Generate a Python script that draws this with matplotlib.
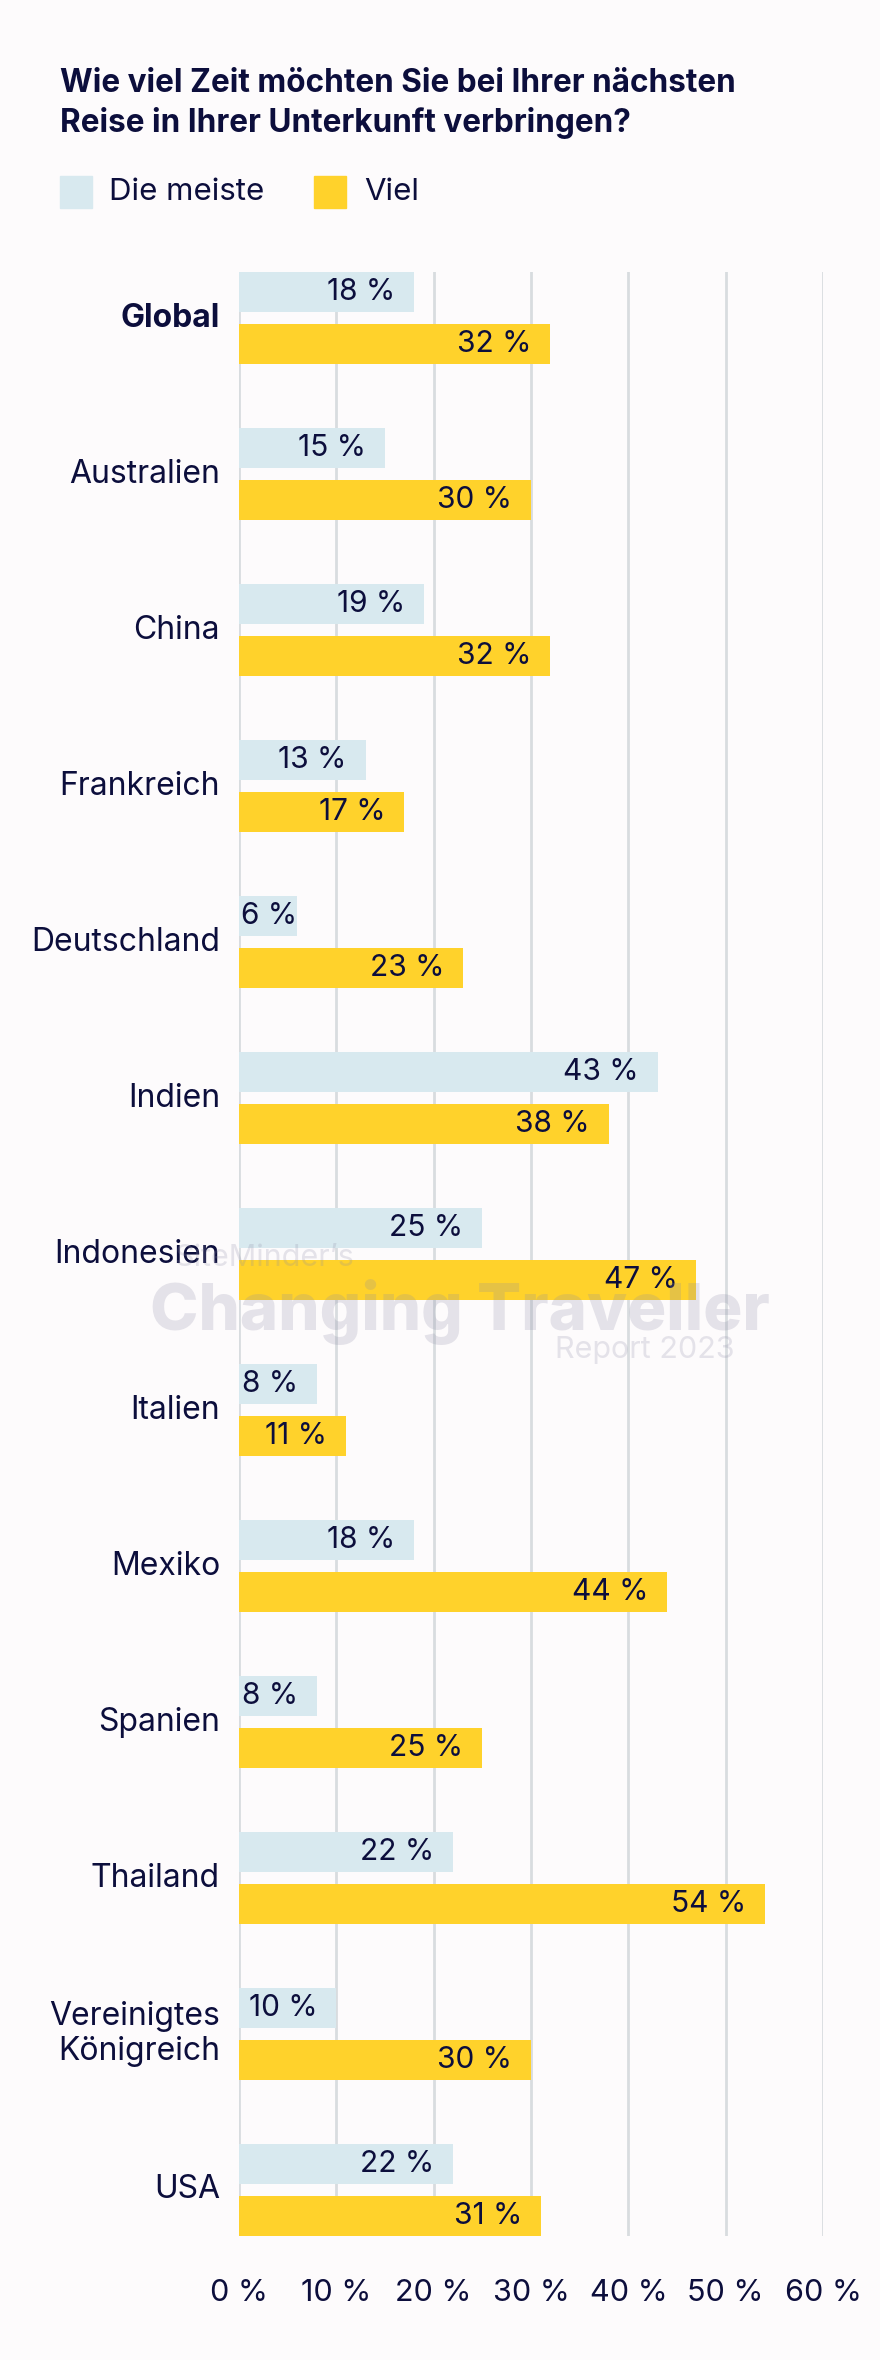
import matplotlib.pyplot as plt
from matplotlib.patches import Rectangle

# -----------------------------
# Data
# -----------------------------
countries = ["Global", "Australien", "China", "Frankreich", "Deutschland", "Indien",
             "Indonesien", "Italien", "Mexiko", "Spanien", "Thailand",
             "Vereinigtes\nKönigreich", "USA"]
die_meiste = [18, 15, 19, 13, 6, 43, 25, 8, 18, 8, 22, 10, 22]
viel = [32, 30, 32, 17, 23, 38, 47, 11, 44, 25, 54, 30, 31]
ticks = [0, 10, 20, 30, 40, 50, 60]

title_lines = ["Wie viel Zeit möchten Sie bei Ihrer nächsten",
               "Reise in Ihrer Unterkunft verbringen?"]

NAVY = "#0c0e3c"
BLUE = "#d8e9ef"
YELLOW = "#ffd22b"
GRID = "#d8dcdf"
BG = "#fdfbfc"

plt.rcParams['font.family'] = ['Inter', 'DejaVu Sans']

W, H = 880, 2360
fig = plt.figure(figsize=(W / 100, H / 100), dpi=100, facecolor=BG)

# axes placed in pixel terms
left, right, top, bottom = 239, 823, 272, 2236
ax = fig.add_axes([left / W, 1 - bottom / H, (right - left) / W, (bottom - top) / H])
ax.set_facecolor(BG)

pitch = 156.0
bh = 40 / pitch
off = 26 / pitch
y = list(range(len(countries)))

ax.barh([i - off for i in y], die_meiste, height=bh, color=BLUE, zorder=2)
ax.barh([i + off for i in y], viel, height=bh, color=YELLOW, zorder=2)

ax.set_xlim(0, 60)
ax.set_ylim(len(countries) - 1 + 46 / pitch, -46 / pitch)

# value labels
for i in y:
    for v, yy in ((die_meiste[i], i - off), (viel[i], i + off)):
        if v < 7:
            ax.annotate(f"{v} %", (0, yy), xytext=(1.5, 0), textcoords="offset points",
                        ha="left", va="center", fontsize=21.5, color=NAVY, zorder=3)
        else:
            ax.annotate(f"{v} %", (v, yy), xytext=(-13.5, 0), textcoords="offset points",
                        ha="right", va="center", fontsize=21.5, color=NAVY, zorder=3)

# category labels
for i, c in enumerate(countries):
    ax.text(-19 / (right - left) * 60, i, c, ha="right", va="center", fontsize=23,
            color=NAVY, linespacing=1.2, fontweight="bold" if c == "Global" else "normal")

ax.set_yticks([])
ax.set_xticks(ticks)
ax.set_xticklabels([f"{t} %" for t in ticks], fontsize=22, color=NAVY)
ax.tick_params(axis="x", length=0, pad=31)
ax.grid(axis="x", color=GRID, linewidth=2, zorder=0)
for s in ax.spines.values():
    s.set_visible(False)

# title
fig.text(60 / W, 1 - 92 / H, title_lines[0], ha="left", va="baseline", fontsize=22.7,
         fontweight="bold", color=NAVY)
fig.text(60 / W, 1 - 132 / H, title_lines[1], ha="left", va="baseline", fontsize=22.7,
         fontweight="bold", color=NAVY)

# legend
for x0, col, lab, tx in ((60, BLUE, "Die meiste", 109), (314, YELLOW, "Viel", 364)):
    fig.patches.append(Rectangle((x0 / W, 1 - 208 / H), 32 / W, 32 / H,
                                 transform=fig.transFigure, color=col))
    fig.text(tx / W, 1 - 192 / H, lab, ha="left", va="center", fontsize=22.5, color=NAVY)

# watermark
wm = "#8c8aa6"
fig.text(174 / W, 1 - 1258 / H, "SiteMinder’s", ha="left", va="center", fontsize=22,
         color=wm, alpha=0.22, zorder=5)
fig.text(460 / W, 1 - 1330 / H, "Changing Traveller", ha="center", va="baseline", fontsize=47,
         fontweight="heavy", color=wm, alpha=0.22, zorder=5)
fig.text(735 / W, 1 - 1350 / H, "Report 2023", ha="right", va="center", fontsize=22,
         color=wm, alpha=0.22, zorder=5)

fig.savefig("out.png", dpi=100, facecolor=BG)
